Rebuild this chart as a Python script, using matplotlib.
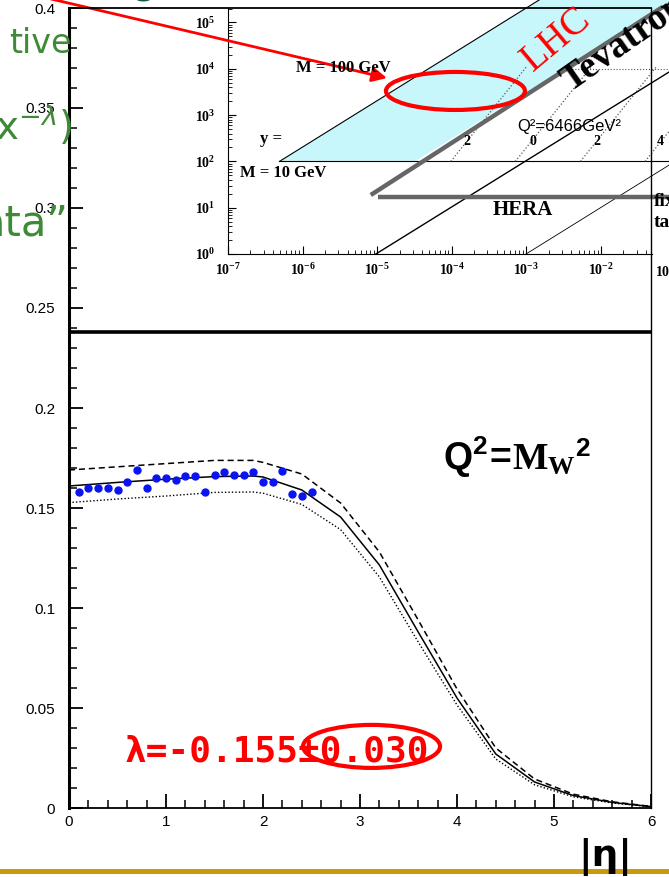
import numpy as np
import matplotlib.pyplot as plt
from matplotlib.patches import Ellipse, Polygon
from matplotlib.lines import Line2D
from matplotlib.transforms import ScaledTranslation
from matplotlib.ticker import MultipleLocator, LogLocator, NullFormatter, FuncFormatter

plt.rcParams['font.family'] = 'Liberation Sans'
plt.rcParams['mathtext.fontset'] = 'custom'
plt.rcParams['mathtext.rm'] = 'Liberation Serif:bold'
plt.rcParams['mathtext.bf'] = 'Liberation Serif:bold'
plt.rcParams['mathtext.it'] = 'Liberation Serif:italic:bold'
plt.rcParams['mathtext.sf'] = 'Liberation Sans:bold'

# measured points (blue dots)
eta_pts = [0.1, 0.2, 0.3, 0.4, 0.5, 0.6, 0.7, 0.8, 0.9, 1.0, 1.1, 1.2, 1.3,
           1.4, 1.5, 1.6, 1.7, 1.8, 1.9, 2.0, 2.1, 2.2, 2.3, 2.4, 2.5]
val_pts = [0.158, 0.160, 0.160, 0.160, 0.159, 0.163, 0.169, 0.160, 0.165,
           0.165, 0.164, 0.166, 0.166, 0.158, 0.1665, 0.168, 0.1665, 0.1665,
           0.168, 0.163, 0.163, 0.1685, 0.157, 0.156, 0.158]
err_pts = 0.0012

# model curves
eta_curve = [0.0, 0.5, 1.0, 1.5, 1.9, 2.0, 2.4, 2.8, 3.2, 3.6, 4.0, 4.4, 4.8, 5.2, 5.6, 6.0]
central = [0.1610, 0.1628, 0.1644, 0.1657, 0.1660, 0.1655, 0.1590, 0.1455,
           0.1215, 0.0880, 0.0550, 0.0270, 0.0130, 0.0062, 0.0028, 0.0007]
upper = [0.1690, 0.1706, 0.1722, 0.1738, 0.1738, 0.1728, 0.1670, 0.1525,
         0.1280, 0.0940, 0.0595, 0.0300, 0.0145, 0.0069, 0.0031, 0.0008]
lower = [0.1527, 0.1545, 0.1560, 0.1578, 0.1580, 0.1574, 0.1518, 0.1392,
         0.1155, 0.0830, 0.0515, 0.0245, 0.0116, 0.0056, 0.0025, 0.0006]

# x-Q^2 plane inset (x, Q^2 in GeV^2)
cyan_x = [4.9e-7, 3.2e-5, 0.098, 1.5e-3]
cyan_q2 = [1e2, 1e2, 3.1e5, 3.1e5]
lhc_edge_x = [4.9e-7, 1.5e-3]
lhc_edge_q2 = [1e2, 3.1e5]
m10_x = [4.9e-7, 0.0816]
m10_q2 = [1e2, 1e2]
m100_x = [3.1e-3, 0.0816]
m100_q2 = [1e4, 1e4]
tev_x = [8.2e-6, 0.068]
tev_q2 = [18.8, 2.19e5]
hera_x = [1.03e-5, 0.0816]
hera_q2 = [17, 17]
hera_y1_x = [9.6e-6, 0.0816]
hera_y1_q2 = [1, 8.5e3]
fixed_x = [9.9e-4, 0.0816]
fixed_q2 = [1, 83]
rap_labels = ['2', '0', '2', '4']
rap_x_lo = [9.7e-5, 7.1e-4, 5.3e-3, 3.9e-2]
rap_x_hi = [1.0e-3, 7.4e-3, 5.5e-2, 4.0e-1]
rap_q2_lo = 1e2
rap_q2_hi = 1.1e4

W, H = 669, 877


def fpos(x, y):
    return x / W, 1 - y / H


fig = plt.figure(figsize=(W / 100, H / 100), dpi=100)

# ---- main panel
ax = fig.add_axes([69 / W, 69 / H, 582 / W, 800 / H])
ax.set_zorder(3)
ax.patch.set_visible(False)

ax.plot(eta_curve, upper, color='k', lw=1.1, ls=(0, (4, 2.5)))
ax.plot(eta_curve, central, color='k', lw=1.1)
ax.plot(eta_curve, lower, color='k', lw=1.0, ls=(0, (1, 1.5)))
ax.errorbar(eta_pts, val_pts, yerr=err_pts, fmt='o', color='#0a14f0',
            ms=5, elinewidth=1.6, capsize=0)
ax.axhline(0.238, color='k', lw=2.6)

ax.set_xlim(0, 6)
ax.set_ylim(0, 0.4)
ax.xaxis.set_major_locator(MultipleLocator(1))
ax.xaxis.set_minor_locator(MultipleLocator(0.2))
ax.yaxis.set_major_locator(MultipleLocator(0.05))
ax.yaxis.set_minor_locator(MultipleLocator(0.01))
ax.yaxis.set_major_formatter(FuncFormatter(lambda v, p: f'{v:g}'))
ax.xaxis.set_major_formatter(FuncFormatter(lambda v, p: f'{v:g}'))
ax.tick_params(which='both', direction='in', top=False, right=False, labelsize=11)
ax.tick_params(which='major', length=10, width=1.3)
ax.tick_params(which='minor', length=6, width=1.1)
ax.tick_params(axis='y', pad=10)
ax.tick_params(axis='x', pad=5)
ax.spines['left'].set_linewidth(2.2)
ax.spines['bottom'].set_linewidth(1.3)
ax.spines['top'].set_linewidth(1.3)
ax.spines['right'].set_linewidth(1.0)

ax.text(0.577, 0.0235, 'λ=-0.155±0.030', color='red', fontsize=26,
        family='DejaVu Sans Mono', weight='bold', va='baseline', ha='left')
ax.add_patch(Ellipse((0, 0), 1.37, 0.43, fill=False, ec='red', lw=3, clip_on=False,
                     transform=fig.dpi_scale_trans + ScaledTranslation(3.119, 0.0308, ax.transData)))

fig.text(*fpos(443, 470),
         r'$\mathsf{Q^{2}}\!\mathsf{=}\!\mathrm{M}_{\mathrm{W}}{}^{\mathsf{2}}$',
         fontsize=27, ha='left', va='baseline', zorder=5)

fig.text(*fpos(605, 866), '|η|', fontsize=27, weight='bold', family='DejaVu Sans',
         ha='center', va='baseline', zorder=6)
fig.add_artist(Line2D([0, 1], [1 - 871 / H] * 2, transform=fig.transFigure,
                      color='#c99a0c', lw=3.6, zorder=4))

# ---- inset x-Q^2 plane
ins = fig.add_axes([228 / W, 623 / H, 424 / W, 246 / H])
ins.set_zorder(2)
ins.patch.set_visible(False)
ins.set_xscale('log')
ins.set_yscale('log')
ins.set_xlim(1e-7, 10 ** -1.316)
ins.set_ylim(1, 10 ** 5.313)

ins.add_patch(Polygon(np.column_stack([cyan_x, cyan_q2]), closed=True,
                      fc='#c8f7fb', ec='none', clip_on=False, zorder=1))
ins.plot(lhc_edge_x, lhc_edge_q2, color='k', lw=0.8, clip_on=False)
ins.plot(m10_x, m10_q2, color='k', lw=0.8, clip_on=False)
ins.plot(m100_x, m100_q2, color='#555555', lw=0.8, ls=':', clip_on=False)
for xl, xh in zip(rap_x_lo, rap_x_hi):
    ins.plot([xl, xh], [rap_q2_lo, rap_q2_hi], color='#555555', lw=0.9, ls=':', clip_on=False)
ins.plot(hera_y1_x, hera_y1_q2, color='k', lw=1.0, clip_on=False)
ins.plot(fixed_x, fixed_q2, color='k', lw=0.6, clip_on=False)
ins.plot(tev_x, tev_q2, color='#666666', lw=3.2, clip_on=False, solid_capstyle='butt')
ins.plot(hera_x, hera_q2, color='#666666', lw=3.2, clip_on=False, solid_capstyle='butt')

xt = [1e-7, 1e-6, 1e-5, 1e-4, 1e-3, 1e-2]
yt = [1, 10, 1e2, 1e3, 1e4, 1e5]
ins.set_xticks(xt)
ins.set_xticklabels([r'$\mathrm{10^{%d}}$' % int(np.log10(v)) for v in xt])
ins.set_yticks(yt)
ins.set_yticklabels([r'$\mathrm{10^{%d}}$' % int(np.log10(v)) for v in yt])
ins.xaxis.set_minor_locator(LogLocator(base=10, subs=np.arange(2, 10) * 1.0, numticks=20))
ins.yaxis.set_minor_locator(LogLocator(base=10, subs=np.arange(2, 10) * 1.0, numticks=20))
ins.xaxis.set_minor_formatter(NullFormatter())
ins.yaxis.set_minor_formatter(NullFormatter())
ins.tick_params(which='both', direction='in', top=False, right=False, labelsize=10)
ins.tick_params(which='major', length=6, width=0.8)
ins.tick_params(which='minor', length=3, width=0.6)
ins.tick_params(axis='y', pad=9)
ins.tick_params(axis='x', pad=6)
for s in ['top', 'right']:
    ins.spines[s].set_visible(False)
ins.text(0.053, 0.62, r'$\mathrm{10^{-1}}$', fontsize=10, ha='left', va='top', clip_on=False)

serif = 'Liberation Serif'
fig.text(*fpos(296, 72), 'M = 100 GeV', fontsize=12, family=serif, weight='bold', zorder=5)
fig.text(*fpos(240, 177), 'M = 10 GeV', fontsize=12, family=serif, weight='bold', zorder=5)
fig.text(*fpos(260, 143), 'y =', fontsize=12, family=serif, weight='bold', zorder=5)
for lab, xp in zip(rap_labels, [467, 533, 597, 660]):
    fig.text(*fpos(xp, 145), lab, fontsize=10, family=serif, weight='bold', ha='center', zorder=5)
fig.text(*fpos(517, 131), 'Q²=6466GeV²', fontsize=12, zorder=5)
fig.text(*fpos(493, 215), 'HERA', fontsize=15, family=serif, weight='bold', zorder=5)
fig.text(*fpos(654, 206), 'fixed', fontsize=14, family=serif, weight='bold', zorder=5)
fig.text(*fpos(654, 227), 'target', fontsize=14, family=serif, weight='bold', zorder=5)
fig.text(*fpos(557, 40), 'LHC', fontsize=28, family=serif, color='red', rotation=40,
         rotation_mode='anchor', ha='center', va='center', zorder=5)
fig.text(*fpos(570, 92), 'Tevatron', fontsize=27, family=serif, weight='bold', rotation=35,
         rotation_mode='anchor', ha='left', va='baseline', zorder=5)

ins.add_patch(Ellipse((0, 0), 1.39, 0.38, fill=False, ec='red', lw=3, clip_on=False, zorder=6,
                      transform=fig.dpi_scale_trans + ScaledTranslation(1.12e-4, 3.32e3, ins.transData)))
ins.annotate('', xy=(1.35e-5, 6.3e3), xycoords='data',
             xytext=(47 / W, 1 + 2 / H), textcoords='figure fraction',
             annotation_clip=False,
             arrowprops=dict(arrowstyle='-|>', color='red', lw=2, mutation_scale=22,
                             shrinkA=0, shrinkB=0))

# ---- clipped slide text on the left
green = '#3f8a36'
fig.text(*fpos(72, 53), 'tive', fontsize=24, color=green, family='DejaVu Sans', ha='right', zorder=5)
fig.text(*fpos(72, 140), r'x$^{-\lambda}$)', fontsize=28, color=green, family='DejaVu Sans',
         math_fontfamily='dejavusans', ha='right', zorder=5)
fig.text(*fpos(68, 235), 'ata”', fontsize=30, color=green, family='DejaVu Sans', ha='right', zorder=5)
fig.text(*fpos(143, 2), 'o', fontsize=28, color='#0d5c35', family='DejaVu Sans',
         weight='bold', ha='center', va='baseline', zorder=5)

fig.savefig('out.png', dpi=100)
